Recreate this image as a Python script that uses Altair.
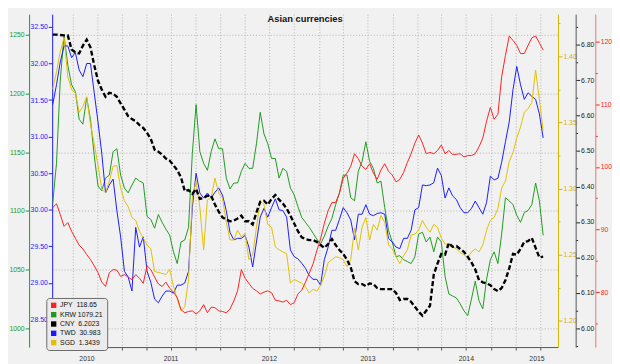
import altair as alt
import pandas as pd

# ---------------- data ----------------
dates = pd.date_range("2010-04-19", periods=131, freq="14D")

jpy = [93.5, 94.1, 92.4, 90.5, 91.1, 89.7, 88.6, 87.5, 86.9, 86.0,
       85.2, 84.2, 83.1, 81.6, 80.9, 83.1, 83.6, 83.5, 82.5, 82.8,
       82.4, 82.0, 82.8, 82.2, 81.4, 84.2, 83.6, 82.4, 81.3, 80.9,
       81.6, 80.6, 80.0, 79.1, 77.2, 76.7, 76.9, 77.0, 76.5, 77.0,
       78.0, 76.7, 77.6, 77.5, 77.0, 76.9, 76.7, 77.3, 78.6, 80.2,
       83.6, 82.2, 81.4, 80.6, 80.2, 79.7, 80.0, 80.2, 79.9, 78.7,
       78.6, 78.4, 78.7, 78.0, 78.3, 79.7, 80.3, 81.6, 83.0, 84.5,
       86.6, 88.5, 91.0, 93.0, 94.3, 94.3, 95.8, 98.2, 99.0, 100.1,
       102.1, 101.3, 100.1, 99.6, 100.5, 99.0, 98.0, 99.5, 100.5, 99.3,
       98.7, 97.6, 98.0, 99.1, 100.7, 102.1, 103.8, 105.1, 103.8, 102.1,
       102.3, 102.1, 102.6, 103.5, 102.1, 102.6, 102.0, 102.0, 102.1, 101.6,
       101.8, 101.8, 102.1, 103.2, 104.6, 107.3, 109.5, 107.6, 108.4, 114.4,
       117.8, 120.9, 120.2, 119.4, 118.1, 118.1, 119.4, 120.6, 120.9, 119.8,
       118.65]

krw = [1107.0, 1140.5, 1211.5, 1249.2, 1224.1, 1207.4, 1201.5, 1178.1, 1173.9, 1196.5,
       1178.1, 1147.2, 1121.3, 1117.1, 1128.0, 1130.5, 1150.5, 1153.0, 1130.5, 1119.6,
       1115.4, 1122.1, 1128.0, 1125.5, 1123.8, 1095.3, 1092.8, 1085.3, 1097.0, 1090.3,
       1084.5, 1079.5, 1065.2, 1055.2, 1073.6, 1075.3, 1086.1, 1148.8, 1190.6, 1150.5,
       1140.5, 1134.6, 1150.5, 1161.4, 1153.0, 1153.0, 1128.0, 1118.7, 1123.8, 1123.8,
       1133.8, 1140.5, 1136.3, 1136.3, 1157.2, 1184.0, 1165.6, 1157.2, 1144.7, 1144.7,
       1128.0, 1136.3, 1133.8, 1119.6, 1113.7, 1103.7, 1094.5, 1090.3, 1086.1, 1081.1,
       1076.1, 1071.9, 1078.6, 1087.0, 1093.7, 1105.4, 1115.4, 1130.5, 1130.5, 1111.2,
       1108.7, 1133.8, 1142.2, 1158.9, 1142.2, 1136.3, 1123.8, 1125.5, 1102.9, 1083.6,
       1073.6, 1061.1, 1061.9, 1058.5, 1056.9, 1055.2, 1061.1, 1080.3, 1081.9, 1073.6,
       1077.8, 1065.2, 1077.8, 1073.6, 1044.3, 1029.3, 1027.6, 1025.9, 1020.9, 1015.0,
       1010.9, 1025.1, 1040.2, 1023.4, 1016.7, 1041.8, 1058.5, 1065.2, 1055.2, 1080.3,
       1111.2, 1108.7, 1105.4, 1096.2, 1090.3, 1098.7, 1100.4, 1105.4, 1123.8, 1108.7,
       1079.21]

cny = [6.828, 6.828, 6.827, 6.826, 6.826, 6.786, 6.778, 6.775, 6.797, 6.814,
       6.792, 6.742, 6.698, 6.673, 6.653, 6.664, 6.662, 6.653, 6.634, 6.617,
       6.598, 6.590, 6.584, 6.573, 6.565, 6.551, 6.534, 6.504, 6.498, 6.490,
       6.479, 6.473, 6.460, 6.446, 6.426, 6.387, 6.390, 6.379, 6.393, 6.365,
       6.368, 6.374, 6.374, 6.349, 6.329, 6.313, 6.307, 6.302, 6.304, 6.310,
       6.318, 6.302, 6.302, 6.293, 6.327, 6.357, 6.360, 6.349, 6.365, 6.376,
       6.363, 6.352, 6.338, 6.318, 6.296, 6.274, 6.257, 6.252, 6.249, 6.249,
       6.244, 6.235, 6.227, 6.238, 6.252, 6.235, 6.221, 6.210, 6.194, 6.172,
       6.133, 6.125, 6.125, 6.119, 6.127, 6.125, 6.114, 6.111, 6.111, 6.111,
       6.111, 6.100, 6.080, 6.083, 6.083, 6.075, 6.061, 6.047, 6.036, 6.050,
       6.064, 6.152, 6.183, 6.210, 6.208, 6.241, 6.230, 6.232, 6.224, 6.216,
       6.202, 6.186, 6.166, 6.136, 6.130, 6.127, 6.122, 6.111, 6.105, 6.114,
       6.136, 6.169, 6.210, 6.208, 6.224, 6.244, 6.246, 6.255, 6.227, 6.200,
       6.2023]

twd = [31.44, 31.71, 32.02, 32.24, 32.24, 32.08, 32.15, 31.91, 31.82, 32.00,
       32.00, 31.60, 31.20, 30.77, 30.23, 30.34, 30.42, 29.99, 29.63, 29.16,
       29.08, 28.89, 29.76, 29.49, 29.63, 29.16, 29.01, 28.78, 28.73, 28.82,
       28.89, 28.89, 28.86, 28.97, 28.97, 29.00, 29.16, 30.03, 30.50, 30.23,
       30.16, 30.23, 30.16, 30.24, 30.30, 30.20, 29.99, 29.69, 29.59, 29.61,
       29.61, 29.65, 29.49, 29.22, 29.56, 29.90, 30.02, 29.90, 30.03, 30.15,
       30.00, 29.99, 29.90, 29.45, 29.36, 29.33, 29.27, 29.20, 29.10, 29.05,
       29.05, 28.97, 29.32, 29.49, 29.72, 29.72, 29.87, 30.03, 29.96, 29.86,
       29.59, 29.94, 29.94, 30.07, 29.94, 29.92, 29.95, 29.96, 29.94, 29.61,
       29.56, 29.49, 29.47, 29.61, 29.61, 29.72, 30.00, 30.03, 30.34, 30.33,
       30.34, 30.37, 30.57, 30.47, 30.16, 30.30, 30.19, 30.14, 30.03, 29.96,
       29.96, 30.02, 30.12, 30.03, 29.94, 30.10, 30.46, 30.41, 30.43, 30.65,
       30.93, 31.20, 31.64, 31.96, 31.71, 31.51, 31.60, 31.55, 31.51, 31.31,
       30.983]

sgd = [1.3755, 1.3881, 1.4037, 1.4141, 1.3844, 1.3747, 1.3725, 1.3576, 1.3621, 1.3695,
       1.3487, 1.3339, 1.3175, 1.2997, 1.2967, 1.3056, 1.3168, 1.3175, 1.3004, 1.2908,
       1.2863, 1.2781, 1.2759, 1.2677, 1.2625, 1.2573, 1.2544, 1.2373, 1.2365, 1.2358,
       1.2350, 1.2388, 1.2261, 1.2165, 1.2076, 1.2105, 1.2313, 1.2930, 1.3056, 1.2856,
       1.2536, 1.2915, 1.2930, 1.3079, 1.2967, 1.2930, 1.2744, 1.2611, 1.2611, 1.2685,
       1.2633, 1.2663, 1.2462, 1.2499, 1.2707, 1.2908, 1.2878, 1.2729, 1.2707, 1.2559,
       1.2536, 1.2521, 1.2507, 1.2284, 1.2313, 1.2298, 1.2284, 1.2254, 1.2209, 1.2239,
       1.2224, 1.2269, 1.2336, 1.2440, 1.2462, 1.2484, 1.2477, 1.2462, 1.2410, 1.2462,
       1.2700, 1.2536, 1.2707, 1.2781, 1.2611, 1.2729, 1.2685, 1.2796, 1.2744, 1.2573,
       1.2544, 1.2484, 1.2432, 1.2492, 1.2536, 1.2648, 1.2655, 1.2685, 1.2759, 1.2707,
       1.2670, 1.2729, 1.2707, 1.2625, 1.2581, 1.2566, 1.2559, 1.2544, 1.2514, 1.2499,
       1.2477, 1.2521, 1.2544, 1.2521, 1.2573, 1.2685, 1.2759, 1.2781, 1.2848, 1.3004,
       1.3056, 1.3205, 1.3272, 1.3383, 1.3465, 1.3576, 1.3606, 1.3651, 1.3896, 1.3673,
       1.3439]

legend_labels = ["JPY\u00a0\u00a0118.65", "KRW\u00a01079.21", "CNY\u00a0\u00a06.2023",
                 "TWD\u00a0\u00a030.983", "SGD\u00a0\u00a01.3439"]
year_labels = ["2010", "2011", "2012", "2013", "2014", "2015"]
year_label_dates = ["2010-08-24", "2011-07-02", "2012-07-01", "2013-07-02", "2014-07-02", "2015-03-21"]

krw_ticks = [1000, 1050, 1100, 1150, 1200, 1250]
twd_ticks = [28.5, 29.0, 29.5, 30.0, 30.5, 31.0, 31.5, 32.0, 32.5]
sgd_ticks = [1.175, 1.2, 1.225, 1.25, 1.275, 1.3, 1.325, 1.35, 1.375, 1.4, 1.425]
cny_ticks = [5.95, 6.0, 6.05, 6.1, 6.15, 6.2, 6.25, 6.3, 6.35, 6.4, 6.45, 6.5, 6.55, 6.6,
             6.65, 6.7, 6.75, 6.8, 6.85]
jpy_ticks = [75, 80, 85, 90, 95, 100, 105, 110, 115, 120]

# ---------------- styling ----------------
W, H = 515, 339
BG = "#f1f1f1"
GRID = "#b2b2b2"
C_JPY, C_KRW, C_CNY, C_TWD, C_SGD = "#ff2020", "#1f9a1f", "#000000", "#1a1aff", "#e2bf00"
FONT = "Liberation Sans"

quarters = [alt.DateTime(year=y, month=m, date=1)
            for y in range(2010, 2016) for m in (1, 4, 7, 10)
            if (2010, 4) < (y, m) <= (2015, 4)]

x_enc = alt.X(
    "date:T", title=None,
    scale=alt.Scale(domain=[alt.DateTime(year=2010, month=4, date=17),
                            alt.DateTime(year=2015, month=6, date=7)]),
    axis=alt.Axis(values=quarters, labels=False, grid=True, gridDash=[1, 2],
                  gridColor=GRID, tickSize=3, domainColor="#555", tickColor="#555"),
)


def frame(vals):
    return pd.DataFrame({"date": dates, "v": vals})


def minor_test(step):
    k = round(1 / step, 6)
    return f"abs(datum.value*{k} - round(datum.value*{k})) < 0.001"


def yaxis(orient, offset, values, color, fmt, major_step=None, grid=False, domain_color=None):
    kw = dict(orient=orient, offset=offset, values=values, labelColor=color,
              tickColor=color, domainColor=domain_color or color, labelFontSize=7,
              labelFont=FONT, labelPadding=1, labelOverlap=False, grid=grid, title=None)
    if grid:
        kw.update(gridDash=[1, 2], gridColor=GRID)
    if major_step is not None:
        test = minor_test(major_step)
        kw["labelExpr"] = f"{test} ? format(datum.value, '{fmt}') : ''"
        kw["tickSize"] = {"condition": {"test": test, "value": 4}, "value": 2}
    else:
        kw["format"] = fmt
        kw["tickSize"] = 4
    return alt.Axis(**kw)


def yenc(domain, axis):
    return alt.Y("v:Q", title=None, axis=axis,
                 scale=alt.Scale(domain=domain, nice=False, zero=False))


krw_l = alt.Chart(frame(krw)).mark_line(color=C_KRW, strokeWidth=1).encode(
    x=x_enc, y=yenc([984.1, 1267.6], yaxis("left", 23.5, krw_ticks, C_KRW, "d", grid=True)))
twd_l = alt.Chart(frame(twd)).mark_line(color=C_TWD, strokeWidth=1).encode(
    x=x_enc, y=yenc([28.124, 32.6745], yaxis("left", 0, twd_ticks, C_TWD, ".2f")))
sgd_l = alt.Chart(frame(sgd)).mark_line(color=C_SGD, strokeWidth=1).encode(
    x=x_enc, y=yenc([1.18007, 1.43195], yaxis("right", 0, sgd_ticks, "#d4b400", ".2f", major_step=0.05)))
jpy_l = alt.Chart(frame(jpy)).mark_line(color=C_JPY, strokeWidth=1).encode(
    x=x_enc, y=yenc([71.22, 124.39], yaxis("right", 38, jpy_ticks, C_JPY, "d", major_step=10,
                                           domain_color="#f07070")))
cny_l = alt.Chart(frame(cny)).mark_line(color=C_CNY, strokeWidth=2.4, strokeDash=[5, 2.5]).encode(
    x=x_enc, y=yenc([5.9475, 6.8858], yaxis("right", 18, cny_ticks, "#222222", ".2f", major_step=0.1,
                                            domain_color="#555555")))

legend_layer = alt.Chart(pd.DataFrame({"label": legend_labels})).mark_square(opacity=0).encode(
    x=alt.value(0), y=alt.value(0),
    color=alt.Color("label:N",
                    scale=alt.Scale(domain=legend_labels, range=[C_JPY, C_KRW, C_CNY, C_TWD, C_SGD]),
                    legend=alt.Legend(title=None, orient="none", legendX=-6, legendY=289,
                                      direction="vertical", symbolType="square", symbolSize=30,
                                      symbolOpacity=1, symbolStrokeWidth=0, labelFontSize=7,
                                      labelFont=FONT, labelColor="#111", fillColor="#ebebeb",
                                      strokeColor="#6a6a6a", padding=4, cornerRadius=3,
                                      rowPadding=1.5, labelOffset=3)),
)

years = alt.Chart(pd.DataFrame({"date": pd.to_datetime(year_label_dates), "label": year_labels})).mark_text(
    fontSize=7, font=FONT, color="#333333", baseline="middle").encode(
    x=x_enc, y=alt.value(H + 12), text="label:N")

title = alt.Chart(pd.DataFrame({"t": ["Asian currencies"]})).mark_text(
    fontSize=9.5, fontWeight="bold", font=FONT, color="#111111", baseline="middle").encode(
    x=alt.value(W / 2), y=alt.value(5), text="t:N")

chart = (
    alt.layer(krw_l, twd_l, sgd_l, jpy_l, cny_l, legend_layer, years, title)
    .resolve_scale(y="independent")
    .properties(width=W, height=H, background=BG,
                padding={"left": 0, "top": 0, "right": 0, "bottom": 0})
    .configure_view(fill=BG, strokeWidth=0)
)

chart.save("out.html", embed_options={"renderer": "svg", "actions": False})
